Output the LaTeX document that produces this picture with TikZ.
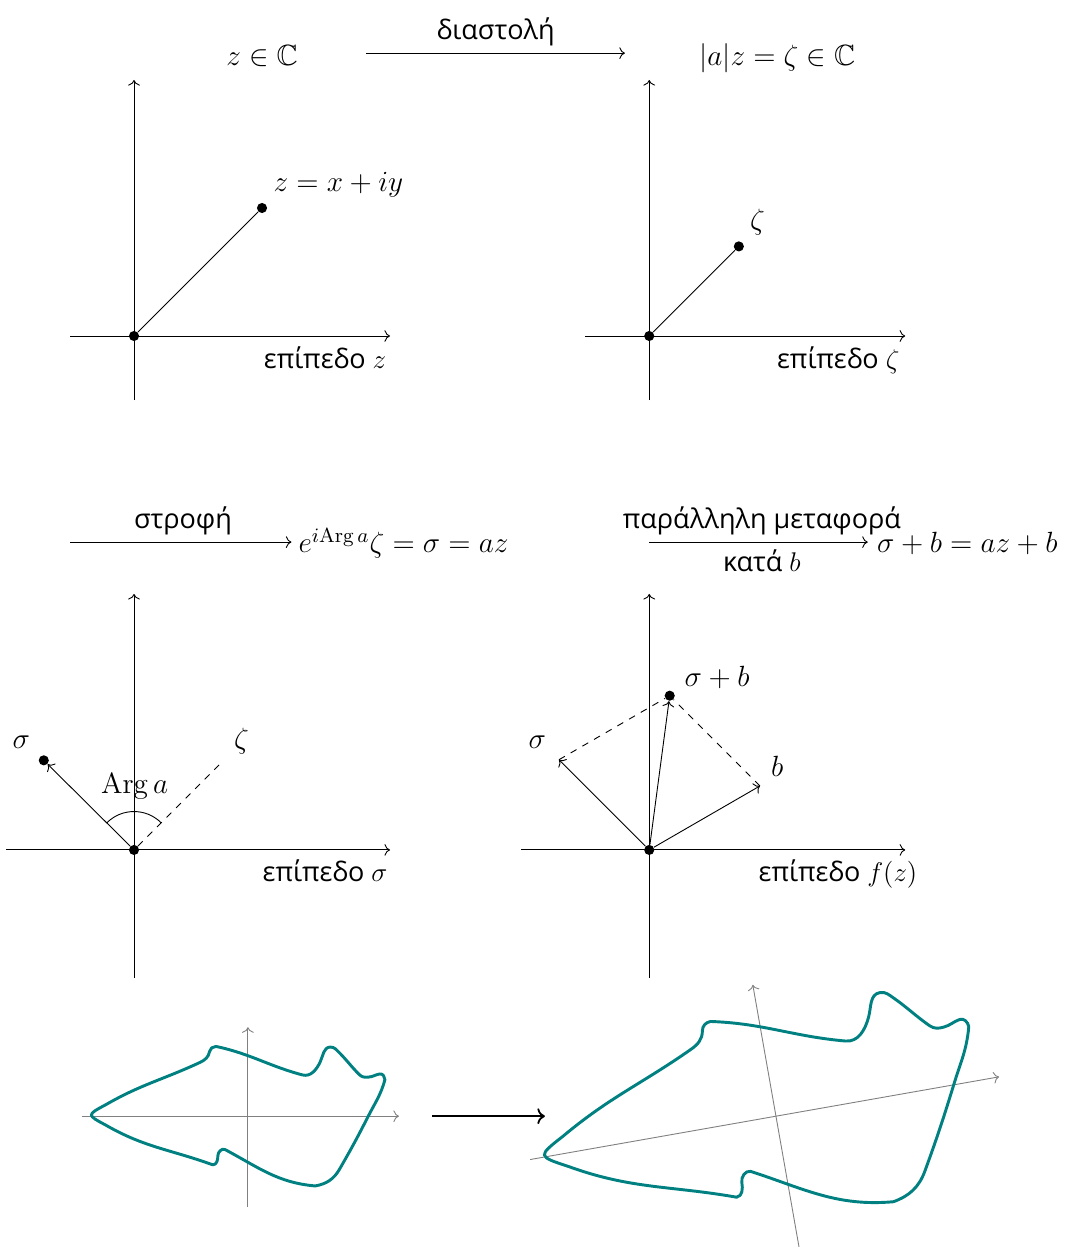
\RequirePackage{fix-cm}
\documentclass[tikz,border=0pt]{standalone}
\usepackage{amsmath,amssymb}
\usepackage[no-math]{fontspec}
\setmainfont{Open Sans}
\usetikzlibrary{positioning,arrows.meta,calc}

\tikzset{
    shoe/.pic={
        \draw[faint] (-2.6,0) -- (2.36,0);
        \draw[faint] (0,-1.42) -- (0,1.39);
        \draw[shoeline] (-2.22,0.18)
            to[out=30,in=205] (-0.75,0.84)
            to[out=25,in=-100] (-0.60,1.01)
            to[out=80,in=180] (-0.50,1.09)
            to[out=-12,in=165] (0.85,0.645)
            to[out=-15,in=-115] (1.13,0.85)
            to[out=65,in=180] (1.29,1.08)
            to[out=0,in=135] (1.42,1.00)
            to[out=-45,in=135] (1.74,0.65)
            to[out=-45,in=185] (1.88,0.61)
            to[out=5,in=190] (2.06,0.66)
            to[out=10,in=90] (2.14,0.57)
            to[out=-105,in=63] (1.88,0)
            to[out=243,in=60] (1.43,-0.83)
            to[out=240,in=10] (1.05,-1.09)
            to[out=175,in=-28] (-0.36,-0.52)
            to[out=160,in=90] (-0.47,-0.62)
            to[out=-90,in=0] (-0.55,-0.76)
            to[out=160,in=-30] (-2.22,-0.14)
            .. controls (-2.52,0.02) .. (-2.22,0.18) -- cycle;
    }
}

\begin{document}
\begin{tikzpicture}[
    dot/.style={circle, fill, inner sep=0pt, minimum size=4.5pt},
    lbl/.style={font=\fontsize{13}{16}\selectfont, inner sep=1pt},
    txt/.style={font=\large, inner sep=1pt},
    faint/.style={->, gray},
    shoeline/.style={teal, line width=1.3pt, line join=round}
]
\useasboundingbox (-2.094,-14.234) rectangle (14.656,5.25);

% Top row: z -> |a|z
\node[lbl, anchor=base] (zC) at (2.0,4.22) {$z \in \mathbb{C}$};
\node[lbl, anchor=base] (aZ) at (10.05,4.22) {$|a|z = \zeta \in \mathbb{C}$};
\coordinate (dilS) at (3.63,4.42);
\coordinate (dilE) at (7.67,4.42);
\draw[->] (dilS) -- node[txt, above=2pt] (dil) {διαστολή} (dilE);

% Second row: rotation and translation
\coordinate (rotS) at (-1.0,-3.22);
\node[lbl, anchor=base west] (sig) at (2.53,-3.39) {$e^{i\mathrm{Arg}\,a}\zeta = \sigma = az$};
\draw[->, shorten >=2pt] (rotS) -- node[txt, above=2pt] (rot) {στροφή} (rotS -| sig.west);
\node[lbl, anchor=base west] (sigb) at (11.57,-3.39) {$\sigma + b = az + b$};
\coordinate (trS) at (8.05,-3.22);
\draw[->, shorten >=3pt] (trS) -- node[txt, above=2pt] (tr) {παράλληλη μεταφορά}
    node[txt, below=2pt] (trb) {κατά $b$} (trS -| sigb.west);

% z plane
\begin{scope}
\draw[->] (-1,0) -- (4,0);
\draw[->] (0,-1) -- (0,4);
\node[dot] (o1) at (0,0) {};
\node[dot] (z) at (2,2) {};
\draw (o1) -- (z);
\node[lbl, anchor=base west] (zlab) at (2.14,2.25) {$z = x + iy$};
\node[txt, anchor=base east] (pz) at (3.98,-0.5) {επίπεδο $z$};
\end{scope}

% zeta plane
\begin{scope}[shift={(8.05,0)}]
\draw[->] (-1,0) -- (4,0);
\draw[->] (0,-1) -- (0,4);
\node[dot] (o2) at (0,0) {};
\node[dot] (zeta) at (1.4,1.4) {};
\draw (o2) -- (zeta);
\node[lbl] (zetalab) at (1.69,1.78) {$\zeta$};
\node[txt, anchor=base east] (pzeta) at (3.95,-0.5) {επίπεδο $\zeta$};
\end{scope}

% sigma plane
\begin{scope}[shift={(0,-8.03)}]
\draw[->] (-2,0) -- (4,0);
\draw[->] (0,-2) -- (0,4);
\node[dot] (o3) at (0,0) {};
\node[dot] (s3) at (-1.41,1.40) {};
\coordinate (zeta3) at (1.33,1.33);
\draw[->] (o3) -- (s3);
\draw[dashed] (o3) -- (zeta3);
\draw (0,0) ++(45:0.6) arc[start angle=45, end angle=135, radius=0.6];
\node[lbl] (arg) at (0.01,1.0) {$\mathrm{Arg}\,a$};
\node[lbl] (s3lab) at (-1.76,1.68) {$\sigma$};
\node[lbl] (zeta3lab) at (1.68,1.70) {$\zeta$};
\node[txt, anchor=base east] (psig) at (4.0,-0.5) {επίπεδο $\sigma$};
\end{scope}

% f(z) plane
\begin{scope}[shift={(8.05,-8.03)}]
\draw[->] (-2,0) -- (4,0);
\draw[->] (0,-2) -- (0,4);
\node[dot] (o4) at (0,0) {};
\coordinate (s4) at (-1.41,1.41);
\coordinate (b4) at (1.73,1.0);
\node[dot] (sb4) at (0.32,2.41) {};
\draw[->] (o4) -- (s4);
\draw[->] (o4) -- (b4);
\draw[->] (o4) -- (sb4);
\draw[dashed] (s4) -- (sb4);
\draw[dashed] (b4) -- (sb4);
\node[lbl] (s4lab) at (-1.75,1.68) {$\sigma$};
\node[lbl] (b4lab) at (2.0,1.30) {$b$};
\node[lbl] (sb4lab) at (1.06,2.70) {$\sigma + b$};
\node[txt, anchor=base east] (pf) at (4.23,-0.5) {επίπεδο $f(z)$};
\end{scope}

% Region before and after
\pic at (1.78,-12.19) {shoe};
\coordinate (mapS) at (4.66,-12.19);
\coordinate (mapE) at (6.42,-12.19);
\draw[->, thick] (mapS) -- (mapE);
\pic[rotate=10, scale=1.5] at (10.03,-12.19) {shoe};

\end{tikzpicture}
\end{document}
